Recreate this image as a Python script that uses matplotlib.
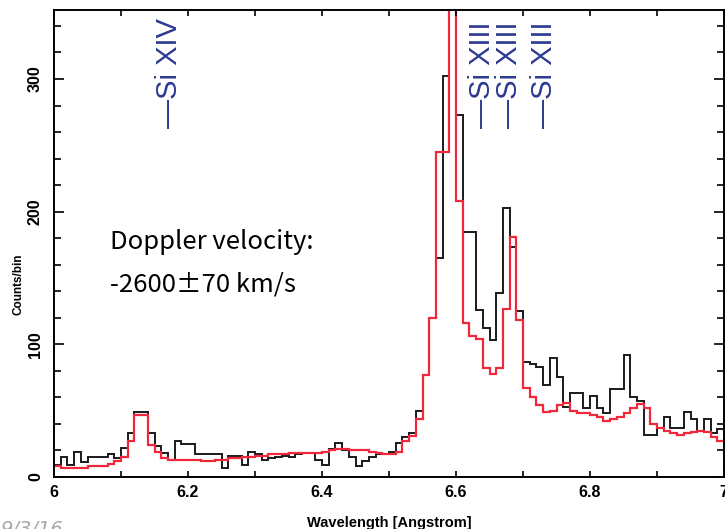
import numpy as np
import matplotlib.pyplot as plt
from matplotlib.ticker import MultipleLocator

# bin edges of the spectrum (0.01 A bins from 6 to 7 A)
edges = np.round(np.arange(6.0, 7.0001, 0.01), 2)

# observed counts per bin (black)
observed = [
    9, 15, 9, 19, 11, 15, 15, 15, 17, 14,
    22, 33, 49, 49, 33, 23, 18, 13, 27, 25,
    25, 17, 17, 17, 17, 7, 16, 16, 9, 19,
    17, 13, 14, 15, 16, 15, 17, 18, 18, 13,
    9, 21, 26, 20, 15, 8, 12, 15, 17, 17,
    19, 26, 30, 33, 50, 77, 120, 165, 302, 430,
    273, 185, 185, 126, 112, 103, 139, 203, 173, 125,
    87, 85, 83, 69, 90, 75, 53, 63, 63, 52,
    61, 52, 48, 66, 66, 92, 60, 57, 32, 32,
    37, 45, 37, 37, 49, 44, 35, 44, 33, 36,
]

# model counts per bin (red)
model = [
    8, 7, 7, 7, 7, 8, 8, 8, 10, 12,
    15, 27, 47, 47, 24, 19, 14, 13, 13, 13,
    13, 13, 12, 12, 13, 13, 14, 14, 15, 15,
    16, 16, 17, 17, 17, 18, 18, 18, 18, 18,
    19, 20, 21, 21, 20, 20, 20, 19, 18, 17,
    17, 19, 27, 31, 44, 77, 120, 245, 245, 400,
    208, 116, 106, 104, 82, 78, 82, 127, 181, 118,
    67, 60, 54, 49, 50, 54, 56, 50, 48, 48,
    47, 45, 42, 44, 45, 48, 52, 55, 52, 40,
    37, 35, 33, 32, 33, 34, 35, 34, 30, 27,
]

# line identifications
line_names = ['Si XIV', 'Si XIII', 'Si XIII', 'Si XIII']
line_wl = [6.180, 6.648, 6.688, 6.740]
label_base = 263

fig = plt.figure(figsize=(7.25, 5.29), dpi=100)
ax = fig.add_axes([54 / 725, 52 / 529, 670 / 725, 467 / 529])

ax.stairs(observed, edges, baseline=None, color='#1a1a1a', lw=1.4)
ax.stairs(model, edges, baseline=None, color='#f0283c', lw=1.6)

ax.set_xlim(6.0, 7.0)
ax.set_ylim(0, 352)

ax.xaxis.set_major_locator(MultipleLocator(0.2))
ax.xaxis.set_minor_locator(MultipleLocator(0.1))
ax.yaxis.set_major_locator(MultipleLocator(100))
ax.yaxis.set_minor_locator(MultipleLocator(20))
ax.xaxis.set_major_formatter(lambda v, p: f'{v:g}')

ax.tick_params(which='both', direction='in', top=True, right=True, width=1.2)
ax.tick_params(axis='x', which='both', length=4, pad=6, labelsize=11.5)
ax.tick_params(axis='y', which='major', length=7, pad=8, labelsize=11.5, labelrotation=90)
ax.tick_params(axis='y', which='minor', length=5)
for lab in ax.get_xticklabels() + ax.get_yticklabels():
    lab.set_fontweight('bold')
    lab.set_family('Liberation Sans')
for lab in ax.get_yticklabels():
    lab.set_va('center')
for s in ax.spines.values():
    s.set_linewidth(1.4)

ax.set_xlabel('Wavelength [Angstrom]', fontsize=10.5, fontweight='bold',
              family='Liberation Sans', labelpad=11)
fig.text(18 / 725, 1 - 284 / 529, 'Counts/bin', rotation=90, fontsize=8.5,
         fontweight='bold', family='Liberation Sans', ha='center', va='center')

for name, wl in zip(line_names, line_wl):
    ax.annotate('\u2014' + name, xy=(wl, label_base), xytext=(-6, 0),
                textcoords='offset pixels', rotation=90, ha='center', va='bottom',
                color='#2b3990', fontsize=21, family='Liberation Sans')

fig.text(110 / 725, 1 - 249 / 529, 'Doppler velocity:', fontsize=18.5,
         family=['Noto Sans CJK JP', 'DejaVu Sans'], va='baseline', ha='left')
fig.text(110 / 725, 1 - 291 / 529, '-2600\u00b170 km/s', fontsize=18.5,
         family=['Noto Sans CJK JP', 'DejaVu Sans'], va='baseline', ha='left')

fig.text(0.0, 9 / 529, '9/3/16', fontsize=14, color='#a8a8a8', style='italic',
         va='top', ha='left')

fig.savefig('out.png', dpi=100)
